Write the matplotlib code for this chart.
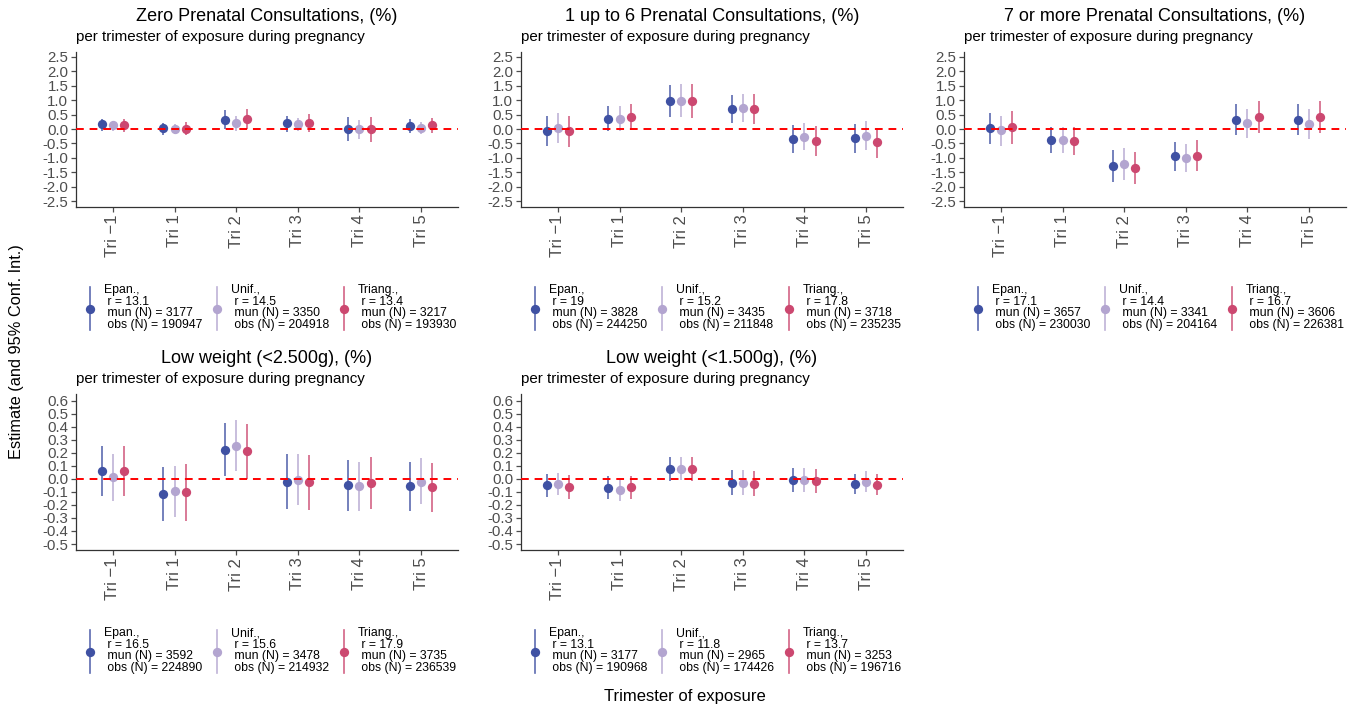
import matplotlib
matplotlib.use("Agg")
import matplotlib.pyplot as plt
from matplotlib.lines import Line2D
import numpy as np

plt.rcParams['font.family'] = ['Liberation Sans', 'DejaVu Sans']

# ---------------- data ----------------
tick_labels = ["Tri \u22121", "Tri 1", "Tri 2", "Tri 3", "Tri 4", "Tri 5"]
kernels = ["Epan.", "Unif.", "Triang."]
colors = ["#3F51A3", "#B3A5D0", "#CC4870"]

titles = ["Zero Prenatal Consultations, (%)",
          "1 up to 6 Prenatal Consultations, (%)",
          "7 or more Prenatal Consultations, (%)",
          "Low weight (<2.500g), (%)",
          "Low weight (<1.500g), (%)"]
subtitle = "per trimester of exposure during pregnancy"

# rows: Epan., Unif., Triang. ; columns: Tri -1 .. Tri 5
zero_est = [[0.16, 0.02, 0.32, 0.20, 0.00, 0.12],
            [0.13, 0.01, 0.22, 0.17, 0.01, 0.05],
            [0.13, 0.01, 0.36, 0.21, -0.01, 0.13]]
zero_lo = [[-0.07, -0.19, 0.01, -0.10, -0.42, -0.14],
           [-0.05, -0.16, -0.05, -0.05, -0.34, -0.16],
           [-0.10, -0.22, 0.01, -0.10, -0.45, -0.14]]
zero_hi = [[0.36, 0.21, 0.65, 0.47, 0.43, 0.36],
           [0.28, 0.19, 0.47, 0.39, 0.32, 0.24],
           [0.35, 0.23, 0.71, 0.51, 0.42, 0.38]]

mid_est = [[-0.07, 0.36, 0.97, 0.68, -0.35, -0.32],
           [0.03, 0.36, 0.98, 0.72, -0.27, -0.23],
           [-0.07, 0.41, 0.97, 0.68, -0.43, -0.46]]
mid_lo = [[-0.60, -0.07, 0.42, 0.21, -0.83, -0.83],
          [-0.49, -0.07, 0.42, 0.23, -0.74, -0.72],
          [-0.63, -0.02, 0.38, 0.17, -0.95, -1.00]]
mid_hi = [[0.44, 0.79, 1.52, 1.17, 0.13, 0.17],
          [0.56, 0.79, 1.55, 1.20, 0.21, 0.27],
          [0.47, 0.87, 1.56, 1.20, 0.09, 0.05]]

high_est = [[0.03, -0.38, -1.28, -0.94, 0.32, 0.32],
            [-0.03, -0.38, -1.22, -1.01, 0.21, 0.16],
            [0.07, -0.41, -1.34, -0.93, 0.41, 0.42]]
high_lo = [[-0.51, -0.83, -1.84, -1.44, -0.20, -0.22],
           [-0.57, -0.83, -1.78, -1.50, -0.30, -0.36],
           [-0.51, -0.89, -1.91, -1.46, -0.14, -0.14]]
high_hi = [[0.57, 0.07, -0.74, -0.44, 0.86, 0.86],
           [0.47, 0.07, -0.66, -0.53, 0.71, 0.68],
           [0.63, 0.07, -0.78, -0.39, 0.96, 0.97]]

lw25_est = [[0.056, -0.115, 0.224, -0.023, -0.050, -0.059],
            [0.013, -0.092, 0.255, -0.008, -0.059, -0.023],
            [0.056, -0.100, 0.210, -0.028, -0.033, -0.066]]
lw25_lo = [[-0.130, -0.320, 0.020, -0.230, -0.250, -0.247],
           [-0.170, -0.290, 0.056, -0.200, -0.250, -0.196],
           [-0.130, -0.320, 0.000, -0.237, -0.235, -0.255]]
lw25_hi = [[0.250, 0.094, 0.430, 0.190, 0.145, 0.128],
           [0.190, 0.100, 0.450, 0.190, 0.128, 0.158],
           [0.250, 0.115, 0.420, 0.186, 0.170, 0.122]]

lw15_est = [[-0.050, -0.069, 0.077, -0.036, -0.013, -0.040],
            [-0.040, -0.084, 0.077, -0.033, -0.013, -0.026],
            [-0.064, -0.064, 0.077, -0.038, -0.018, -0.046]]
lw15_lo = [[-0.140, -0.158, -0.018, -0.128, -0.102, -0.120],
           [-0.128, -0.173, -0.013, -0.128, -0.102, -0.100],
           [-0.158, -0.158, -0.018, -0.135, -0.110, -0.128]]
lw15_hi = [[0.040, 0.020, 0.166, 0.064, 0.079, 0.040],
           [0.048, 0.000, 0.166, 0.064, 0.079, 0.056],
           [0.030, 0.025, 0.166, 0.061, 0.077, 0.038]]

# legend statistics per panel: bandwidth r, municipalities, observations
bw_r = [["13.1", "14.5", "13.4"], ["19", "15.2", "17.8"], ["17.1", "14.4", "16.7"],
        ["16.5", "15.6", "17.9"], ["13.1", "11.8", "13.7"]]
mun_n = [[3177, 3350, 3217], [3828, 3435, 3718], [3657, 3341, 3606],
         [3592, 3478, 3735], [3177, 2965, 3253]]
obs_n = [[190947, 204918, 193930], [244250, 211848, 235235], [230030, 204164, 226381],
         [224890, 214932, 236539], [190968, 174426, 196716]]

top_yticks = [2.5, 2.0, 1.5, 1.0, 0.5, 0.0, -0.5, -1.0, -1.5, -2.0, -2.5]
bot_yticks = [0.6, 0.5, 0.4, 0.3, 0.2, 0.1, 0.0, -0.1, -0.2, -0.3, -0.4, -0.5]

panels = [(zero_est, zero_lo, zero_hi), (mid_est, mid_lo, mid_hi),
          (high_est, high_lo, high_hi), (lw25_est, lw25_lo, lw25_hi),
          (lw15_est, lw15_lo, lw15_hi)]

# ---------------- layout ----------------
W, H = 1359, 710
fig = plt.figure(figsize=(W / 100, H / 100), dpi=100)

def rect(l, t, r, b):
    return [l / W, 1 - b / H, (r - l) / W, (b - t) / H]

boxes = [(76, 52, 458, 207), (521, 52, 903, 207), (964, 52, 1346, 207),
         (76, 394, 458, 550), (521, 394, 903, 550)]

dodge = [-0.18, 0.0, 0.18]
xpos = np.arange(1, 7)
axis_col = "#333333"
tick_col = "#4D4D4D"

for i, (est, lo, hi) in enumerate(panels):
    l, t, r, b = boxes[i]
    ax = fig.add_axes(rect(l, t, r, b))
    for k in range(3):
        xs = xpos + dodge[k]
        ax.vlines(xs, lo[k], hi[k], color=colors[k], lw=1.2, alpha=0.85, zorder=2)
        ax.plot(xs, est[k], 'o', color=colors[k], ms=6.7, mew=0, zorder=3)
    ax.axhline(0, color="#FF0000", lw=1.4, ls=(0, (4, 3)), zorder=4)
    ax.set_xlim(0.4, 6.6)
    if i < 3:
        ax.set_ylim(-2.7, 2.67)
        yt = top_yticks
    else:
        ax.set_ylim(-0.546, 0.65)
        yt = bot_yticks
    ax.set_yticks(yt)
    ax.set_yticklabels([f"{v:.1f}".replace("-0.0", "0.0") for v in yt])
    ax.set_xticks(xpos)
    ax.set_xticklabels(tick_labels, rotation=90)
    for s in ["top", "right"]:
        ax.spines[s].set_visible(False)
    for s in ["left", "bottom"]:
        ax.spines[s].set_color(axis_col)
        ax.spines[s].set_linewidth(0.9)
    ax.tick_params(axis="both", colors=tick_col, labelcolor=tick_col,
                   length=3.5, width=0.9, pad=2)
    ax.tick_params(axis="y", labelsize=10.8)
    ax.tick_params(axis="x", labelsize=12)
    ax.set_title(titles[i], fontsize=13, pad=0, y=1.0 + 31 / (b - t), color="black")
    fig.text(l / W, 1 - (t - 15) / H, subtitle, fontsize=10.9, ha="left", va="center")

    # legend below panel
    leg_top = b + 80
    for k in range(3):
        lx = l + 14 + 127 * k
        fig.add_artist(Line2D([lx / W, lx / W], [1 - leg_top / H, 1 - (leg_top + 43) / H],
                              color=colors[k], lw=1.2, alpha=0.85))
        fig.add_artist(Line2D([lx / W], [1 - (leg_top + 22) / H], marker='o',
                              color=colors[k], ms=6.7, mew=0, ls='none'))
        txt = f"{kernels[k]},\n r = {bw_r[i][k]}\n mun (N) = {mun_n[i][k]}\n obs (N) = {obs_n[i][k]}"
        fig.text((lx + 14) / W, 1 - (leg_top - 3) / H, txt, fontsize=8.8,
                 ha="left", va="top", linespacing=0.95)

fig.text(17 / W, 1 - 352 / H, "Estimate (and 95% Conf. Int.)", rotation=90,
         fontsize=11.8, ha="center", va="center")
fig.text(685 / W, 1 - 697 / H, "Trimester of exposure", fontsize=12,
         ha="center", va="center")

fig.savefig("out.png", dpi=100)
